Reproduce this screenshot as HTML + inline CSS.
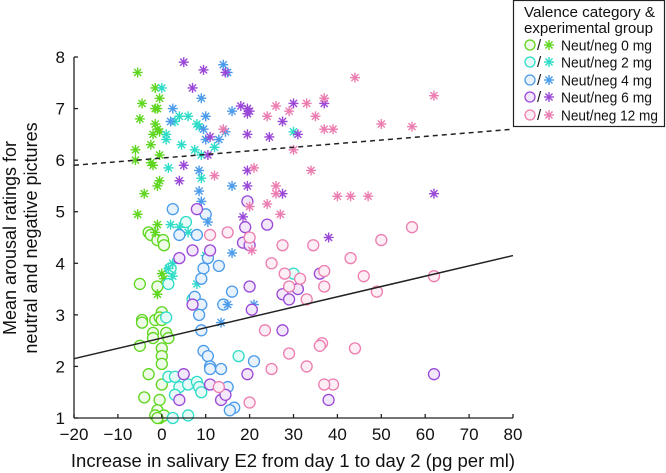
<!DOCTYPE html>
<html><head><meta charset="utf-8"><style>
body{margin:0;background:#fff;}
svg{display:block;font-family:"Liberation Sans",sans-serif;}
</style></head><body>
<svg id="chart" width="666" height="473"></svg>
<script>
const groups=["0 mg","2 mg","4 mg","6 mg","12 mg"];
const colors=["#5fd61f","#2fdcc8","#4a9bea","#9a48d8","#ec7db0"];
const fills=["#eefbe6","#e6fbf8","#e8f2fc","#f3e8fb","#fdeef5"];
const starsG0=[[-5.5,7.7],[-1.5,7.4],[-0.5,7.2],[-4.5,7.1],[-1.5,7.0],[-1,7.0],[-5,6.8],[-1.5,6.7],[-1,6.6],[-0.5,6.55],[-2,6.5],[-2.5,6.3],[-6,6.2],[-0.5,6.1],[-6,6.0],[-2.5,5.95],[-2,5.9],[-0.5,5.6],[-1,5.5],[-4,5.35],[-5.5,4.95],[-1,4.75],[-1.5,4.6],[0,3.8],[0.5,3.7],[-1,3.4]];
const circlesG0=[[-3,4.6],[-2.5,4.55],[-1,4.45],[0.3,4.45],[0.5,4.35],[-5,3.6],[-1,3.55],[-4.5,2.9],[-4.5,2.85],[-1.5,2.9],[0,3.05],[-0.5,2.95],[0,2.9],[-2,2.65],[1,2.65],[-2,2.55],[1.5,2.55],[-5,2.4],[0,2.35],[0,2.2],[0,2.05],[-3,1.85],[0,1.65],[-4,1.4],[-0.5,1.35],[-1,1.15],[-1.5,1.05],[-0.5,1.0],[0.5,1.05],[-1,1.0]];
const starsG2=[[0,7.4],[4,6.85],[3,6.75],[1,6.5],[1,6.4],[6,6.85],[8,6.7],[8.5,6.65],[4.5,6.3],[7.5,6.2],[9,6.1],[12,6.25],[1.5,5.85],[9,5.65],[30,6.55],[2,4.75],[4,4.7],[6,4.6],[10,4.15],[2.5,4.0],[1.5,3.9],[2.5,3.75],[8,3.6]];
const circlesG2=[[5.5,4.8],[2,3.9],[1.5,3.6],[7,3.3],[1,2.95],[1.5,1.8],[3,1.8],[4,1.6],[3,1.45],[6,1.65],[8,1.7],[8.5,1.6],[9,1.5],[6,1.05],[2.5,1.0],[17.5,2.2],[30,3.8]];
const starsG4=[[14,7.85],[15,7.7],[9,7.2],[2.5,7.0],[2,6.75],[10,6.85],[9.5,6.6],[10,6.4],[13,6.4],[14.5,6.55],[16,6.95],[8.5,5.8],[8.5,5.4],[9,5.2],[16,5.5],[10.5,4.8],[16,4.2],[15,3.2],[21,3.2],[13.5,2.85]];
const circlesG4=[[2.5,5.05],[10,4.95],[4,4.55],[8,4.55],[10.5,4.1],[13,3.95],[9.5,3.9],[9,3.7],[7.5,3.35],[9,3.2],[14,3.2],[16,3.45],[8.5,3.0],[9,2.7],[9.5,2.3],[10.5,2.2],[11,2.0],[11,1.95],[13.5,1.95],[15,1.6],[16.5,1.2],[15.5,1.15],[21,2.1]];
const starsG6=[[5,7.9],[7,7.4],[9.5,7.75],[14.5,7.7],[18,7.05],[19.5,7.0],[19.5,6.9],[20,6.95],[27.5,6.75],[30,7.1],[37,7.1],[11,6.45],[19.5,6.5],[24.5,6.45],[31,6.5],[10.5,6.1],[5,5.9],[4,5.6],[19.5,5.5],[18.5,4.9],[27.5,5.35],[19.5,5.8],[62,5.35],[38,4.5]];
const circlesG6=[[8,5.05],[19.5,5.2],[19,4.7],[24,4.75],[18.5,4.4],[20,4.35],[11,4.25],[7,4.25],[4,4.1],[20,3.55],[27.5,3.4],[29,3.3],[31,3.5],[7,3.2],[20.5,3.1],[27.5,2.7],[5,1.85],[11,1.65],[19.5,1.85],[13.5,1.35],[14.5,1.45],[4,1.35],[62,1.85],[38,1.35],[36,3.8]];
const starsG12=[[44,7.6],[62,7.25],[37,7.2],[33,7.1],[26,7.05],[24,6.85],[29,6.95],[35,6.85],[37,6.6],[39,6.6],[50,6.7],[57,6.65],[30,6.2],[21,5.85],[34,5.8],[12,5.7],[26,5.5],[26,5.35],[27,4.95],[24,5.15],[20,5.1],[14,6.6],[43,5.3],[47,5.3],[40,5.3],[20.5,4.25]];
const circlesG12=[[11,4.55],[20,4.5],[15,4.6],[27.5,4.35],[34.5,4.35],[25,4.0],[28,3.8],[29,3.55],[31.5,3.7],[33,3.3],[37,3.85],[37,3.55],[43,4.1],[46,3.75],[50,4.45],[57,4.7],[62,3.75],[49,3.45],[23.5,2.7],[29,2.25],[36.5,2.45],[44,2.35],[33,2.0],[25,1.95],[39,1.65],[20,1.3],[13,1.6],[37,1.65],[36,2.4]];
const starSets=[starsG0,starsG2,starsG4,starsG6,starsG12];
const circleSets=[circlesG0,circlesG2,circlesG4,circlesG6,circlesG12];
const xTicks=[-20,-10,0,10,20,30,40,50,60,70,80];
const yTicks=[1,2,3,4,5,6,7,8];
const fitNeg=[[-20,5.9],[80,6.6]];
const fitNeut=[[-20,2.15],[80,4.15]];

const X0=74,X1=513,Y0=418,Y1=57;
const sx=v=>X0+(v+20)/100*(X1-X0);
const sy=v=>Y0-(v-1)/7*(Y0-Y1);
const svg=document.getElementById('chart');
const NS='http://www.w3.org/2000/svg';
function mk(tag,attrs,parent){const e=document.createElementNS(NS,tag);for(const k in attrs)e.setAttribute(k,attrs[k]);(parent||svg).appendChild(e);return e;}

const pts=mk('g',{});


function star(g,cx,cy,col,r){
  for(let a=0;a<4;a++){const t=a*Math.PI/4;
    mk('line',{x1:cx-r*Math.cos(t),y1:cy-r*Math.sin(t),x2:cx+r*Math.cos(t),y2:cy+r*Math.sin(t),stroke:col,'stroke-width':1.4},g);}
  mk('circle',{cx:cx,cy:cy,r:1.6,fill:col},g);
}
for(let i=0;i<5;i++){
  circleSets[i].forEach(p=>{
    const c=mk('circle',{cx:sx(p[0]),cy:sy(p[1]),r:5.5,fill:fills[i],stroke:colors[i],'stroke-width':1.3},pts);
    
    
  });
  starSets[i].forEach(p=>{
    const g=mk('g',{},pts);
    
    
    star(g,sx(p[0]),sy(p[1]),colors[i],5);
  });
}
const l1=mk('line',{x1:sx(fitNeg[0][0]),y1:sy(fitNeg[0][1]),x2:sx(fitNeg[1][0]),y2:sy(fitNeg[1][1]),stroke:'#222','stroke-width':1.5,'stroke-dasharray':'5,4'});


const l2=mk('line',{x1:sx(fitNeut[0][0]),y1:sy(fitNeut[0][1]),x2:sx(fitNeut[1][0]),y2:sy(fitNeut[1][1]),stroke:'#222','stroke-width':1.5});



const ax=mk('g',{stroke:'#222','stroke-width':1.3,fill:'none'});


mk('line',{x1:X0,y1:Y1,x2:X0,y2:Y0},ax);
mk('line',{x1:X0,y1:Y0,x2:X1,y2:Y0},ax);
const tl=mk('g',{fill:'#111',stroke:'none'});
xTicks.forEach(t=>{mk('line',{x1:sx(t),y1:Y0,x2:sx(t),y2:Y0-4},ax);
  const tx=mk('text',{x:sx(t),y:Y0+22,'text-anchor':'middle','font-size':17},tl);tx.textContent=t<0?'\u2212'+(-t):t;
  });
yTicks.forEach(t=>{mk('line',{x1:X0,y1:sy(t),x2:X0+4,y2:sy(t)},ax);
  const tx=mk('text',{x:X0-9,y:sy(t)+6,'text-anchor':'end','font-size':17},tl);tx.textContent=t;
  });

const xt=mk('text',{x:293,y:467,'text-anchor':'middle','font-size':18.5,fill:'#111'});
xt.textContent='Increase in salivary E2 from day 1 to day 2 (pg per ml)';


const yg=mk('g',{transform:'translate(16,238) rotate(-90)',fill:'#111','font-size':18,'text-anchor':'middle'});


mk('text',{x:0,y:0},yg).textContent='Mean arousal ratings for';
mk('text',{x:0,y:21},yg).textContent='neutral and negative pictures';

const lg=mk('g',{'font-size':15,fill:'#111'});


mk('rect',{x:513.5,y:0.5,width:151,height:126,fill:'#fff',stroke:'#222','stroke-width':1.2},lg);
mk('text',{x:524,y:17,textLength:131,lengthAdjust:'spacingAndGlyphs'},lg).textContent='Valence category &';
mk('text',{x:524,y:33,textLength:129,lengthAdjust:'spacingAndGlyphs'},lg).textContent='experimental group';
const legY=[45,62,80,97,115];
for(let i=0;i<5;i++){
  const e=mk('g',{},lg);
  
  
  mk('circle',{cx:530,cy:legY[i],r:5,fill:fills[i],stroke:colors[i],'stroke-width':1.3},e);
  mk('text',{x:537,y:legY[i]+5},e).textContent='/';
  star(e,549,legY[i],colors[i],5);
  mk('text',{x:561,y:legY[i]+5.5,textLength:(i===4?97:91),lengthAdjust:'spacingAndGlyphs'},e).textContent='Neut/neg '+groups[i];
}
</script>
</body></html>
